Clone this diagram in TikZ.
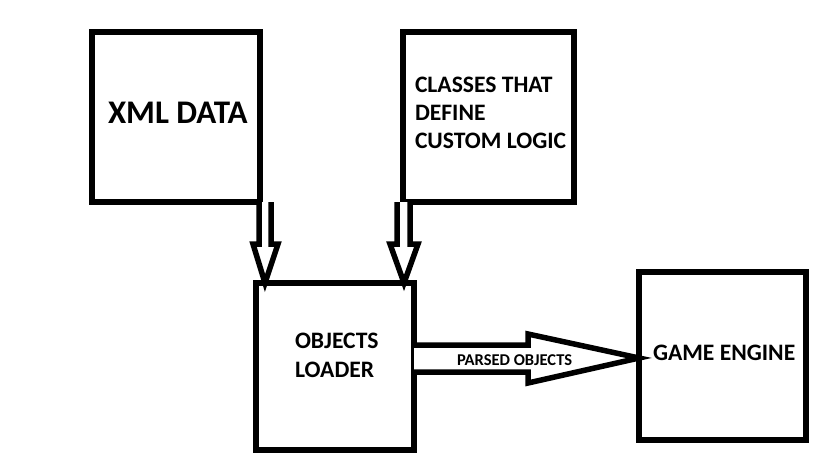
\documentclass[tikz,border=0pt]{standalone}
\usepackage{fontspec}
\setmainfont{Carlito}
\begin{document}
\begin{tikzpicture}[x=1pt,y=-1pt,
  box/.style={draw=black, line width=5.5pt, outer sep=0pt, inner sep=0pt, fill=white},
  blockarrow/.style={draw=black, line width=5.5pt, line join=miter, fill=white},
  lbl/.style={anchor=base west, inner sep=0pt, outer sep=0pt, font=\bfseries\fontsize{23.6}{28}\selectfont},
]
\useasboundingbox[fill=white] (0,0) rectangle (834,460);
% boxes
\node[box, minimum width=168pt, minimum height=170pt] (xml) at (176,117) {};
\node[box, minimum width=171pt, minimum height=170pt] (cls) at (488.5,117) {};
\node[box, minimum width=158pt, minimum height=167pt] (ldr) at (335,366.5) {};
\node[box, minimum width=167pt, minimum height=168pt] (eng) at (722.5,356) {};
% labels
\node[lbl, font=\bfseries\fontsize{33}{38}\selectfont] (xmlt) at (108,123) {XML DATA};
\node[lbl] (c1) at (415,92) {CLASSES THAT};
\node[lbl] (c2) at (415,120) {DEFINE};
\node[lbl] (c3) at (415,148) {CUSTOM LOGIC};
\node[lbl] (l1) at (295,348) {OBJECTS};
\node[lbl] (l2) at (295,377) {LOADER};
\node[lbl] (et) at (653,360) {GAME ENGINE};
% arrows
\draw[blockarrow] (xml.south -| 259,0) -- (259,244) -- (253,244) -- (ldr.north -| 265,0) -- (278,244) -- (271,244) -- (xml.south -| 271,0);
\draw[blockarrow] (cls.south -| 397,0) -- (397,244) -- (390,244) -- (ldr.north -| 404,0) -- (418,244) -- (410,244) -- (cls.south -| 410,0);
\draw[blockarrow] (ldr.east |- 0,345) -- (528,345) -- (528,334) -- (eng.west |- 0,358) -- (528,383) -- (528,372) -- (ldr.east |- 0,372);
\node[lbl, font=\bfseries\fontsize{16.5}{18}\selectfont] (pt) at (457,365) {PARSED OBJECTS};
\end{tikzpicture}
\end{document}
